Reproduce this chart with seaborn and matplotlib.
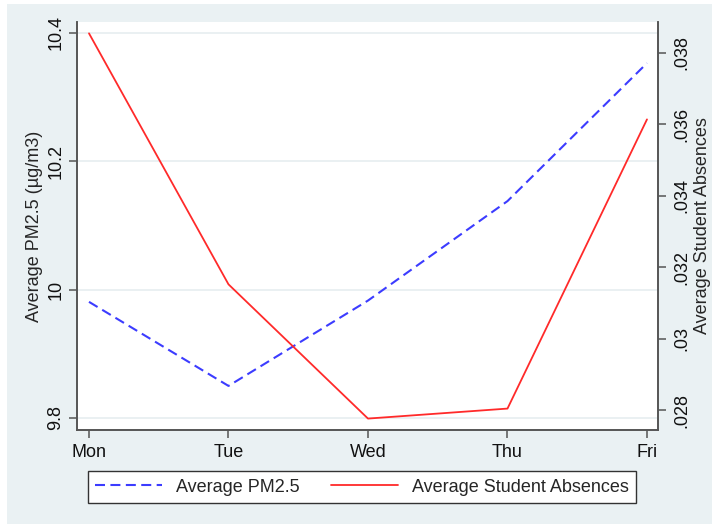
import matplotlib
matplotlib.use("Agg")
import matplotlib.pyplot as plt
from matplotlib.patches import Rectangle
from matplotlib.lines import Line2D
import seaborn as sns
import pandas as pd

# Weekday averages
days = ["Mon", "Tue", "Wed", "Thu", "Fri"]
pm25 = [9.981, 9.850, 9.983, 10.138, 10.353]
absences = [0.03855, 0.03152, 0.02776, 0.02804, 0.03614]

left_ticks = [9.8, 10.0, 10.2, 10.4]
left_labels = ["9.8", "10", "10.2", "10.4"]
right_ticks = [0.028, 0.030, 0.032, 0.034, 0.036, 0.038]
right_labels = [".028", ".03", ".032", ".034", ".036", ".038"]

df = pd.DataFrame({"day": range(len(days)), "pm25": pm25, "absences": absences})

sns.set_theme(style="white")
plt.rcParams["font.family"] = ["Liberation Sans", "DejaVu Sans"]

W, H = 719, 524
fig = plt.figure(figsize=(W / 100, H / 100), dpi=100, facecolor="white")

# Graph region background
fig.patches.append(Rectangle((7 / W, 0), 705 / W, 520 / H, transform=fig.transFigure,
                             facecolor="#EAF1F3", edgecolor="none", zorder=-10))

ax = fig.add_axes([77 / W, 1 - 430 / H, 581 / W, 408 / H])
ax.set_facecolor("white")
ax2 = ax.twinx()

blue = "#3C3CFF"
red = "#FF2A2A"
fs = 13
dash = [4.8, 2.6]

sns.lineplot(data=df, x="day", y="pm25", ax=ax, color=blue, linewidth=1.5,
             legend=False)
ax.lines[-1].set_dashes(dash)
sns.lineplot(data=df, x="day", y="absences", ax=ax2, color=red, linewidth=1.3,
             legend=False)

ax.set_xlim(-0.086, 4.079)
ax.set_ylim(9.7813, 10.4171)
ax2.set_ylim(0.02744, 0.038868)

ax.set_xticks(range(len(days)))
ax.set_xticklabels(days, fontsize=fs)
ax.set_yticks(left_ticks)
ax.set_yticklabels(left_labels, fontsize=fs, rotation=90, va="center")
ax2.set_yticks(right_ticks)
ax2.set_yticklabels(right_labels, fontsize=fs, rotation=90, va="center")

ax.set_xlabel("")
ax.set_ylabel("Average PM2.5 (µg/m3)", fontsize=fs, labelpad=3)
ax2.set_ylabel("Average Student Absences", fontsize=fs, labelpad=3, rotation=90)

ax.grid(axis="y", color="#E6EEF0", linewidth=1.2)
ax.set_axisbelow(True)

spine_c = "#555555"
for a in (ax, ax2):
    a.spines["top"].set_visible(False)
    for s in ("left", "right", "bottom"):
        a.spines[s].set_color(spine_c)
        a.spines[s].set_linewidth(1.2)
    a.tick_params(axis="both", which="major", length=6, width=1.1, color=spine_c,
                  labelcolor="#111111", pad=3)
ax.tick_params(axis="y", left=True, right=False)
ax.tick_params(axis="x", bottom=True, pad=4)
ax2.tick_params(axis="y", right=True, left=False, pad=5)

handles = [Line2D([], [], color=blue, linewidth=1.5, dashes=dash),
           Line2D([], [], color=red, linewidth=1.3)]
leg = fig.legend(handles, ["Average PM2.5", "Average Student Absences"],
                 loc="center", bbox_to_anchor=(362 / W, 1 - 487 / H), ncol=2,
                 fontsize=fs, frameon=True, fancybox=False, handlelength=3.7,
                 handletextpad=0.8, columnspacing=1.7, borderpad=0.4,
                 borderaxespad=0)
leg.get_frame().set_edgecolor("#333333")
leg.get_frame().set_linewidth(1.0)
leg.get_frame().set_facecolor("white")
leg.get_frame().set_alpha(1)

fig.savefig("out.png", dpi=100, facecolor="white")
